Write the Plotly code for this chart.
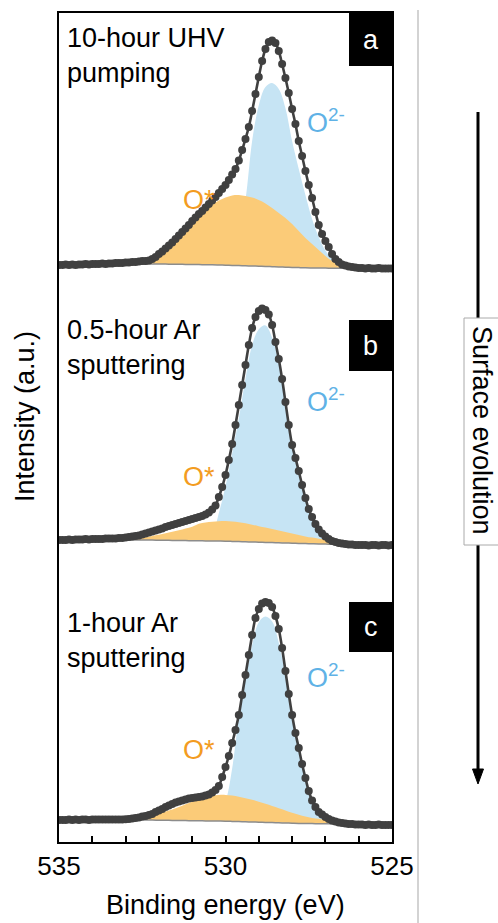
import numpy as np
import plotly.graph_objects as go

# ---------------- data ----------------
be_points = np.round(np.linspace(535, 525, 101), 2)   # measured points, 0.1 eV step
be_fit = np.round(np.linspace(535, 525, 51), 2)       # fitted components, 0.2 eV step

panel_letters = ["a", "b", "c"]
panel_titles = ["10-hour UHV<br>pumping", "0.5-hour Ar<br>sputtering", "1-hour Ar<br>sputtering"]
panel_offsets = [553, 276, 0]
x_major_ticks = [535, 530, 525]
x_tick_labels = ["535", "530", "525"]

data_a = [24, 24, 24.5, 24, 24.5, 24, 24.5, 24.5, 25, 24.5,
          25, 25, 25, 25.5, 25, 25.5, 25.5, 26, 26, 26,
          26.5, 26.5, 27, 27, 27.5, 28, 28, 28.5, 30, 32,
          35, 37.5, 40.5, 43.5, 46.5, 50, 53.5, 57, 60.5, 64,
          68, 71.5, 75, 78, 81.5, 85, 88.5, 92, 96, 100,
          104, 109, 114.5, 120, 128.5, 139, 150, 162, 178, 195,
          212, 228, 240, 247, 248.5, 246, 238, 225, 211, 196,
          180, 165, 148, 133, 118, 104, 91, 77, 64, 55,
          48, 42, 35, 30, 27, 24.5, 23.5, 22.5, 22, 21.5,
          21, 21, 20.5, 21, 20.5, 20.5, 21, 20.5, 20.5, 20.5,
          20.5]
data_b = [26, 26, 26, 26.5, 26, 26.5, 26.5, 26.5, 27, 26.5,
          27, 27, 27, 27, 27.5, 27.5, 27.5, 27.5, 28, 28,
          28.5, 29, 29.5, 30, 30.5, 31.5, 32.5, 33.5, 34.5, 35.5,
          36.5, 37.5, 39, 40, 41, 42, 43, 44, 45, 46,
          47, 48, 49, 50, 51.5, 53.5, 56.5, 60.5, 69, 79,
          91, 106, 122, 141, 161, 181, 201, 221, 238, 249,
          255, 257.5, 256, 251.5, 241, 224, 207, 187, 164, 141,
          121, 108, 95, 81, 68, 57, 49, 42, 36.5, 32.5,
          29.5, 27, 25, 24, 23, 22.5, 22, 21.5, 21.5, 21,
          21, 21, 21, 20.5, 21, 21, 20.5, 21, 21, 20.5,
          21]
data_c = [22, 22, 22, 22.5, 22, 22.5, 22, 22.5, 22.5, 22,
          22.5, 22.5, 22.5, 22.5, 22.5, 22.5, 22.5, 22.5, 22.5, 22.5,
          22.7, 23, 23.5, 24, 24.5, 25.5, 26, 27, 28, 30,
          31.5, 33, 35, 36.5, 38, 39.5, 40.5, 41.5, 42.5, 43.5,
          44, 44.5, 45, 45.5, 46.5, 47.5, 49.5, 52, 56, 65,
          75, 86, 99, 112, 127, 147, 167, 187, 207, 224,
          233, 238.5, 240, 239, 235, 226, 213, 194, 171, 148,
          127, 109, 94, 78, 64, 51, 41.5, 35, 30, 27.5,
          25, 23, 21.5, 20.5, 19.5, 19, 18.5, 18, 18, 17.5,
          17.5, 17.5, 17, 17.5, 17, 17, 17.5, 17, 17, 17,
          17]

background_a = [25, 25, 25, 25, 25, 25, 25, 25, 25, 25, 25,
                25, 25, 25, 25, 25, 24.9, 24.8, 24.7, 24.6, 24.5,
                24.4, 24.3, 24.2, 24.0, 23.8, 23.6, 23.4, 23.2, 23.0, 22.8,
                22.6, 22.3, 22.0, 21.8, 21.6, 21.4, 21.2, 21.1, 21.0, 20.9,
                20.8, 20.7, 20.7, 20.6, 20.6, 20.6, 20.5, 20.5, 20.5, 20.5]
background_b = [26, 26, 26, 26, 26, 26, 26, 26, 26, 26, 26,
                26, 26, 25.9, 25.9, 25.8, 25.7, 25.6, 25.5, 25.4, 25.3,
                25.2, 25.1, 25.0, 24.9, 24.8, 24.6, 24.4, 24.2, 24.0, 23.8,
                23.6, 23.4, 23.2, 23.0, 22.8, 22.6, 22.4, 22.2, 22.0, 21.9,
                21.8, 21.7, 21.6, 21.5, 21.4, 21.3, 21.2, 21.2, 21.1, 21.1]
background_c = [22, 22, 22, 22, 22, 22, 22, 22, 22, 22, 22,
                22, 22, 21.9, 21.9, 21.8, 21.7, 21.6, 21.5, 21.4, 21.3,
                21.2, 21.1, 21.0, 20.9, 20.8, 20.6, 20.4, 20.2, 20.0, 19.8,
                19.6, 19.4, 19.2, 19.0, 18.8, 18.6, 18.5, 18.4, 18.3, 18.2,
                18.1, 18.0, 17.9, 17.8, 17.7, 17.6, 17.5, 17.5, 17.4, 17.4]

# component heights above the background
ostar_a = [0, 0, 0, 0, 0, 0, 0, 0, 0.3, 0.8, 1.5,
           2.5, 4, 6, 8, 10.5, 15, 20.7, 27.3, 34.4, 41.5,
           48, 54, 60, 64.5, 67.7, 70, 70.6, 69.8, 68.5, 66.2,
           63, 58.7, 54, 49.2, 43.4, 36.6, 29.8, 23.9, 18, 12.1,
           7.2, 3.8, 1.9, 0.9, 0.4, 0.2, 0, 0, 0, 0]
ostar_b = [0, 0, 0, 0, 0, 0, 0, 0, 0, 0, 0.3,
           0.8, 1.7, 2.8, 4.2, 5.5, 7, 8.6, 10.2, 12, 14,
           17, 18.5, 19.3, 19.9, 20.2, 20, 19.4, 18.5, 17.3, 16,
           14.8, 13.5, 12.2, 11, 9.8, 8.5, 7.2, 6.2, 5.3, 4.3,
           3.3, 2.5, 1.7, 1, 0.5, 0.2, 0, 0, 0, 0]
ostar_c = [0, 0, 0, 0, 0, 0, 0, 0, 0, 0, 0.5,
           1.5, 2.7, 4, 5.6, 7.2, 8.8, 11, 13.5, 16.3, 19.3,
           22.3, 24.3, 25.6, 26.2, 26.3, 25.8, 24.9, 23.6, 22.2, 20.5,
           18.6, 16.6, 14.6, 12.6, 10.5, 8.6, 7, 5.7, 5, 3.6,
           2.6, 1.8, 1.1, 0.6, 0.3, 0.1, 0, 0, 0, 0]

o2_a = [0, 0, 0, 0, 0, 0, 0, 0, 0, 0, 0,
        0, 0, 0, 0, 0, 0, 0, 0, 0, 0,
        0, 1, 2, 4, 7, 14, 32, 66, 125, 161,
        179.5, 183.7, 178, 159, 126.4, 98.6, 72.8, 48.9, 31, 17.6,
        9.2, 4.8, 2.4, 1.2, 0.6, 0.3, 0, 0, 0, 0]
o2_b = [0, 0, 0, 0, 0, 0, 0, 0, 0, 0, 0,
        0, 0, 0, 0, 0, 0, 0, 0, 0, 0.5,
        1, 2.5, 6, 28, 55, 88, 123, 163, 197, 213,
        217, 205, 180, 138, 96, 70, 43, 25, 13, 6.5,
        2.8, 1.2, 0.5, 0.2, 0, 0, 0, 0, 0, 0]
o2_c = [0, 0, 0, 0, 0, 0, 0, 0, 0, 0, 0,
        0, 0, 0, 0, 0, 0, 0, 0, 0, 0,
        0, 1, 3, 8, 20, 53, 104, 143, 177, 200,
        205.8, 201, 180, 147, 104, 74, 45, 22, 11, 5,
        2, 0.8, 0.3, 0, 0, 0, 0, 0, 0, 0]

data_sets = [data_a, data_b, data_c]
backgrounds = [background_a, background_b, background_c]
ostar_sets = [ostar_a, ostar_b, ostar_c]
o2_sets = [o2_a, o2_b, o2_c]

# ---------------- styling ----------------
FONT = "Liberation Sans, Arial, sans-serif"
FS = 27
TICK_FS = 26
BLUE_FILL = "#C6E4F4"
ORANGE_FILL = "#FBCB78"
ORANGE_TXT = "#F39C1F"
BLUE_TXT = "#5FB2E6"
DARK = "#404040"
GRAY_BG = "#8C8C8C"

# plot area in pixels: x 59..392, y 13..842
L, R, T, B = 59, 392, 13, 842


def px(x):
    return (x - L) / (R - L)


def py(y):
    return (B - y) / (B - T)


fig = go.Figure()

for k in range(3):
    off = panel_offsets[k]
    bg = np.array(backgrounds[k]) + off
    blue = bg + np.array(o2_sets[k])
    orange = bg + np.array(ostar_sets[k])
    data = np.array(data_sets[k]) + off

    fig.add_trace(go.Scatter(x=be_fit, y=bg, mode="lines", line=dict(width=0, shape="spline"),
                             hoverinfo="skip", showlegend=False))
    fig.add_trace(go.Scatter(x=be_fit, y=blue, mode="lines", line=dict(width=0, shape="spline"),
                             fill="tonexty", fillcolor=BLUE_FILL, showlegend=False))
    fig.add_trace(go.Scatter(x=be_fit, y=bg, mode="lines", line=dict(width=0, shape="spline"),
                             hoverinfo="skip", showlegend=False))
    fig.add_trace(go.Scatter(x=be_fit, y=orange, mode="lines", line=dict(width=0, shape="spline"),
                             fill="tonexty", fillcolor=ORANGE_FILL, showlegend=False))
    fig.add_trace(go.Scatter(x=be_fit, y=bg, mode="lines",
                             line=dict(width=1.5, color=GRAY_BG, shape="spline"), showlegend=False))
    fig.add_trace(go.Scatter(x=be_points, y=data, mode="lines+markers",
                             line=dict(width=2.6, color=DARK, shape="spline"),
                             marker=dict(size=8, color=DARK), showlegend=False))

annotations = []
shapes = []

title_tops = [21, 313, 606]
letter_boxes = [(13, 66), (320, 371), (602, 652)]
ostar_pos = [(181, 200), (181, 477), (181, 750)]
o2_pos = [(305, 121), (305, 400), (305, 676)]

for k in range(3):
    annotations.append(dict(x=px(65), y=py(title_tops[k]), xref="paper", yref="paper",
                            text=panel_titles[k], showarrow=False, xanchor="left", yanchor="top",
                            align="left", font=dict(family=FONT, size=FS, color="black")))
    y0, y1 = letter_boxes[k]
    shapes.append(dict(type="rect", xref="paper", yref="paper", x0=px(349), x1=px(R),
                       y0=py(y1), y1=py(y0), fillcolor="black", line=dict(width=0)))
    annotations.append(dict(x=px(370.5), y=py((y0 + y1) / 2), xref="paper", yref="paper",
                            text=panel_letters[k], showarrow=False, xanchor="center", yanchor="middle",
                            font=dict(family=FONT, size=FS, color="white")))
    annotations.append(dict(x=px(ostar_pos[k][0]), y=py(ostar_pos[k][1]), xref="paper", yref="paper",
                            text="O*", showarrow=False, xanchor="left", yanchor="middle",
                            font=dict(family=FONT, size=FS, color=ORANGE_TXT)))
    annotations.append(dict(x=px(o2_pos[k][0]), y=py(o2_pos[k][1]), xref="paper", yref="paper",
                            text="O<sup>2-</sup>", showarrow=False, xanchor="left", yanchor="middle",
                            font=dict(family=FONT, size=FS, color=BLUE_TXT)))

# axis titles
annotations.append(dict(x=0.5, y=py(905), xref="paper", yref="paper", text="Binding energy (eV)",
                        showarrow=False, xanchor="center", yanchor="middle",
                        font=dict(family=FONT, size=FS, color="black")))
annotations.append(dict(x=px(25), y=py(417), xref="paper", yref="paper", text="Intensity (a.u.)",
                        showarrow=False, xanchor="center", yanchor="middle", textangle=-90,
                        font=dict(family=FONT, size=FS, color="black")))

# right-hand decoration: divider, arrow, label box
shapes.append(dict(type="line", xref="paper", yref="paper", x0=px(418), x1=px(418),
                   y0=py(10), y1=py(923), line=dict(color="#C4C4C4", width=1.5)))
shapes.append(dict(type="line", xref="paper", yref="paper", x0=px(478), x1=px(478),
                   y0=py(112), y1=py(772), line=dict(color="black", width=3)))
shapes.append(dict(type="path", xref="paper", yref="paper",
                   path=f"M {px(472.5)} {py(769)} L {px(483.5)} {py(769)} L {px(478)} {py(784)} Z",
                   fillcolor="black", line=dict(color="black", width=1)))
shapes.append(dict(type="rect", xref="paper", yref="paper", x0=px(464), x1=px(505),
                   y0=py(545), y1=py(318), fillcolor="white", line=dict(color="#AAAAAA", width=1)))
annotations.append(dict(x=px(482), y=py(431), xref="paper", yref="paper", text="Surface evolution",
                        showarrow=False, xanchor="center", yanchor="middle", textangle=90,
                        font=dict(family=FONT, size=FS, color="black")))

fig.update_layout(
    width=498, height=923,
    margin=dict(l=L, r=498 - R, t=T, b=923 - B),
    paper_bgcolor="white", plot_bgcolor="white",
    showlegend=False,
    annotations=annotations,
    shapes=shapes,
    xaxis=dict(range=[535, 525], showline=True, mirror=True, linecolor="black", linewidth=2,
               ticks="inside", ticklen=6, tickwidth=1.5, tickcolor="black",
               tickvals=x_major_ticks, ticktext=x_tick_labels,
               minor=dict(dtick=1, tick0=525, ticks="inside", ticklen=6, tickwidth=1.5,
                          tickcolor="black", showgrid=False),
               tickfont=dict(family=FONT, size=TICK_FS, color="black"),
               showgrid=False, zeroline=False),
    yaxis=dict(range=[0, B - T], showline=True, mirror=True, linecolor="black", linewidth=2,
               showticklabels=False, ticks="", showgrid=False, zeroline=False),
)

fig.write_html("out.html")
